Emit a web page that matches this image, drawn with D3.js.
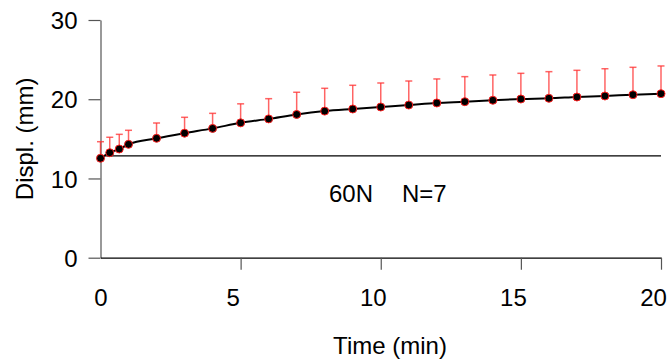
<!DOCTYPE html>
<html>
<head>
<meta charset="utf-8">
<script src="https://cdn.jsdelivr.net/npm/d3@7"></script>
<style>
  html, body { margin: 0; padding: 0; background: #fff; }
  svg { display: block; font-family: "Liberation Sans", Arial, sans-serif; }
</style>
</head>
<body>
<svg id="chart" width="670" height="364"></svg>
<script>
// Displacement over time, mean with upper SD bars
const times = [0, 0.33, 0.67, 1, 2, 3, 4, 5, 6, 7, 8, 9, 10, 11, 12, 13, 14, 15, 16, 17, 18, 19, 20];
const means = [12.55, 13.25, 13.72, 14.31, 15.07, 15.72, 16.32, 17.02, 17.52, 18.08, 18.50, 18.77,
               19.02, 19.27, 19.53, 19.69, 19.87, 20.03, 20.12, 20.28, 20.41, 20.57, 20.70];
const sds   = [2.09, 1.95, 1.85, 1.77, 1.93, 2.00, 1.90, 2.40, 2.55, 2.80, 2.88, 2.99,
               3.03, 3.03, 3.03, 3.16, 3.19, 3.24, 3.36, 3.37, 3.44, 3.46, 3.50];
const baseline = 12.85;
const xTicks = [0, 5, 10, 15, 20];
const yTicks = [0, 10, 20, 30];
const xTitle = "Time (min)";
const yTitle = "Displ. (mm)";
const noteLoad = "60N";
const noteN = "N=7";

const data = times.map((t, i) => ({ t, m: means[i], sd: sds[i] }));

const svg = d3.select("#chart");
const x = d3.scaleLinear().domain([0, 20]).range([100.5, 661]);
const y = d3.scaleLinear().domain([0, 30]).range([257.7, 20]);
const FS = 24;

// y axis
const yAxis = svg.append("g").attr("transform", `translate(${x(0)},0)`)
  .call(d3.axisLeft(y).tickValues(yTicks).tickSizeInner(12).tickSizeOuter(0).tickPadding(11));
yAxis.select(".domain").attr("stroke", "#555").attr("stroke-width", 1.2);
yAxis.selectAll(".tick line").attr("stroke", "#555").attr("stroke-width", 1.2);
yAxis.selectAll(".tick text").attr("font-size", FS).attr("fill", "#000")
  .attr("font-family", "Liberation Sans, Arial, sans-serif").attr("dy", "0.36em");

// x axis
const xAxis = svg.append("g").attr("transform", `translate(0,${y(0)})`)
  .call(d3.axisBottom(x).tickValues(xTicks).tickSizeInner(12).tickSizeOuter(0).tickPadding(19));
xAxis.select(".domain").attr("stroke", "#000").attr("stroke-width", 1.2);
xAxis.selectAll(".tick line").attr("stroke", "#555").attr("stroke-width", 1.2)
  .attr("display", d => d === 0 ? "none" : null);
xAxis.selectAll(".tick text").attr("font-size", FS).attr("fill", "#000")
  .attr("font-family", "Liberation Sans, Arial, sans-serif")
  .attr("dy", "0.71em").attr("dx", d => d === 0 ? 0 : -8);

// axis titles
svg.append("text").attr("x", 390).attr("y", 354).attr("text-anchor", "middle")
  .attr("font-size", FS).text(xTitle);
svg.append("text").attr("transform", `translate(33,${(y(0) + y(30)) / 2}) rotate(-90)`)
  .attr("text-anchor", "middle").attr("font-size", FS).text(yTitle);

// reference level
svg.append("line")
  .attr("x1", x(0)).attr("x2", x(20))
  .attr("y1", y(baseline)).attr("y2", y(baseline))
  .attr("stroke", "#000").attr("stroke-width", 1.3);

// annotation
svg.append("text").attr("x", 329).attr("y", 202).attr("font-size", FS).text(noteLoad);
svg.append("text").attr("x", 402).attr("y", 202).attr("font-size", FS).text(noteN);

// error bars (upper SD)
const eb = svg.append("g").attr("stroke", "#ff3030").attr("stroke-opacity", 0.75).attr("stroke-width", 1.5);
eb.selectAll("line.stem").data(data).join("line").attr("class", "stem")
  .attr("x1", d => x(d.t)).attr("x2", d => x(d.t))
  .attr("y1", d => y(d.m)).attr("y2", d => y(d.m + d.sd));
eb.selectAll("line.cap").data(data).join("line").attr("class", "cap")
  .attr("x1", d => x(d.t) - 3.5).attr("x2", d => x(d.t) + 3.5)
  .attr("y1", d => y(d.m + d.sd)).attr("y2", d => y(d.m + d.sd));

// mean curve
const line = d3.line().x(d => x(d.t)).y(d => y(d.m)).curve(d3.curveMonotoneX);
svg.append("path").datum(data).attr("d", line)
  .attr("fill", "none").attr("stroke", "#000").attr("stroke-width", 2);

// markers
svg.append("g").selectAll("circle").data(data).join("circle")
  .attr("cx", d => x(d.t)).attr("cy", d => y(d.m)).attr("r", 4)
  .attr("fill", "#000").attr("stroke", "#ff2020").attr("stroke-width", 1);
</script>
</body>
</html>
